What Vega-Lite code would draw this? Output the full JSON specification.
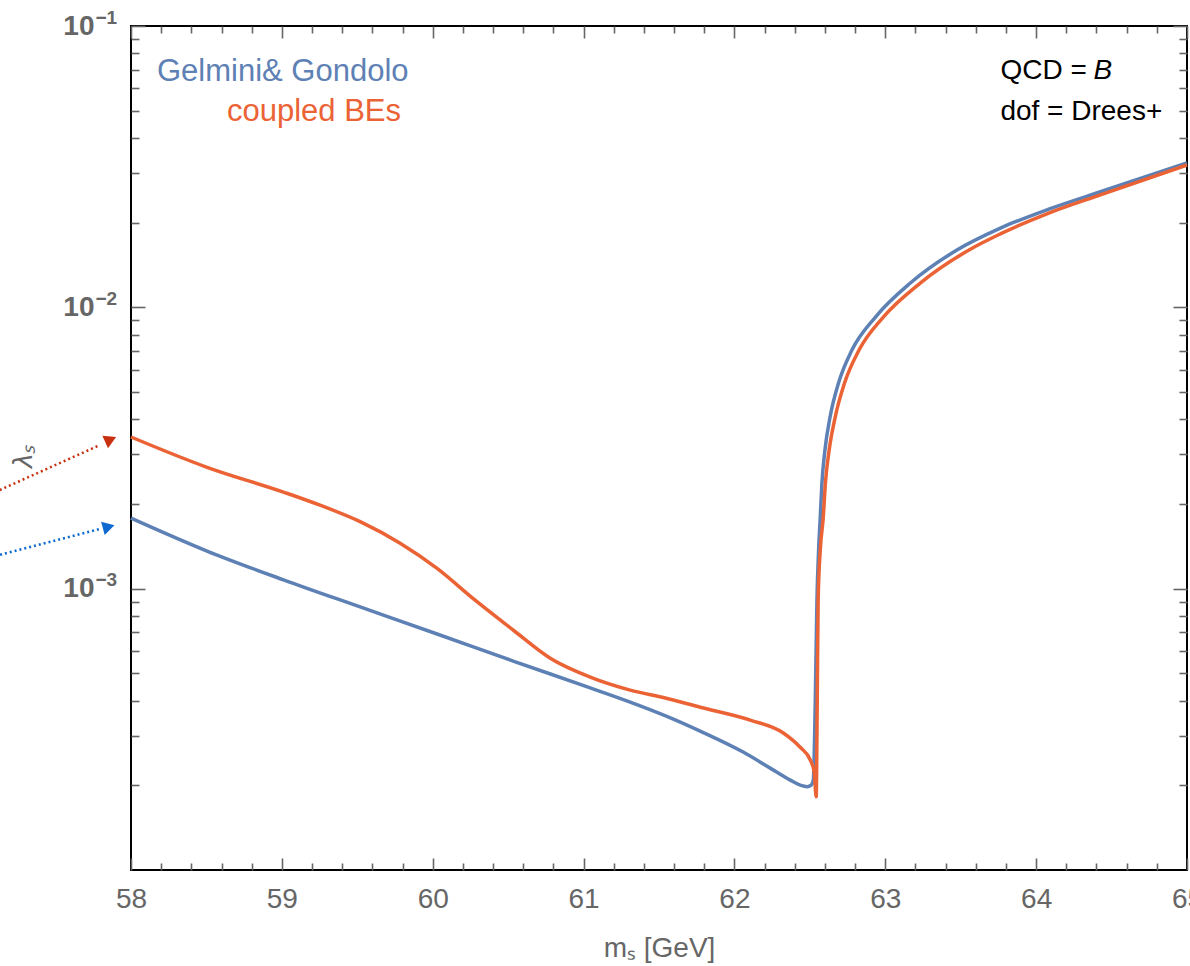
{
  "$schema": "https://vega.github.io/schema/vega-lite/v6.json",
  "width": 1056,
  "height": 844,
  "autosize": {"type": "none"},
  "padding": {"left": 131, "top": 26, "right": 3, "bottom": 96},
  "background": "white",
  "config": {
    "view": {"stroke": "black", "strokeWidth": 2},
    "axis": {"grid": false, "domain": false, "tickColor": "#666666", "tickWidth": 1.6, "labelFont": "Liberation Sans", "titleFont": "Liberation Sans", "labelColor": "#666666", "titleColor": "#666666", "titleFontWeight": "normal"}
  },
  "resolve": {"axis": {"x": "independent", "y": "independent"}},
  "datasets": {
    "gg": [
      {"m": 58.000, "lam": 0.001782}, {"m": 58.504, "lam": 0.001361}, {"m": 59.015, "lam": 0.001073},
      {"m": 59.519, "lam": 0.000861}, {"m": 60.029, "lam": 0.000690}, {"m": 60.533, "lam": 0.000553},
      {"m": 61.044, "lam": 0.000444}, {"m": 61.309, "lam": 0.0003953}, {"m": 61.548, "lam": 0.0003524},
      {"m": 61.773, "lam": 0.0003117}, {"m": 62.058, "lam": 0.0002625}, {"m": 62.237, "lam": 0.0002302},
      {"m": 62.370, "lam": 0.0002087}, {"m": 62.436, "lam": 0.0002003}, {"m": 62.483, "lam": 0.0001978},
      {"m": 62.509, "lam": 0.0002003}, {"m": 62.523, "lam": 0.0002087},
      {"m": 62.536, "lam": 0.000402}, {"m": 62.547, "lam": 0.000911}, {"m": 62.558, "lam": 0.001372},
      {"m": 62.569, "lam": 0.001796}, {"m": 62.580, "lam": 0.002374}, {"m": 62.600, "lam": 0.003110},
      {"m": 62.634, "lam": 0.004074}, {"m": 62.690, "lam": 0.005382}, {"m": 62.779, "lam": 0.007050},
      {"m": 62.935, "lam": 0.009236}, {"m": 63.166, "lam": 0.01220}, {"m": 63.475, "lam": 0.01599},
      {"m": 63.763, "lam": 0.01913}, {"m": 64.088, "lam": 0.02238}, {"m": 64.426, "lam": 0.02575},
      {"m": 65.000, "lam": 0.03258}
    ],
    "cb": [
      {"m": 58.000, "lam": 0.00346}, {"m": 58.504, "lam": 0.00270}, {"m": 59.015, "lam": 0.00220},
      {"m": 59.253, "lam": 0.00198}, {"m": 59.519, "lam": 0.00173}, {"m": 59.784, "lam": 0.00145},
      {"m": 60.029, "lam": 0.00118}, {"m": 60.281, "lam": 0.000910}, {"m": 60.533, "lam": 0.000713},
      {"m": 60.779, "lam": 0.000566}, {"m": 61.044, "lam": 0.000485}, {"m": 61.309, "lam": 0.000436},
      {"m": 61.548, "lam": 0.000408}, {"m": 61.773, "lam": 0.000379}, {"m": 62.105, "lam": 0.000341},
      {"m": 62.324, "lam": 0.000307}, {"m": 62.436, "lam": 0.000273}, {"m": 62.503, "lam": 0.000246},
      {"m": 62.529, "lam": 0.000223}, {"m": 62.542, "lam": 0.000182}, {"m": 62.549, "lam": 0.000402},
      {"m": 62.555, "lam": 0.000911}, {"m": 62.569, "lam": 0.001372}, {"m": 62.589, "lam": 0.001796},
      {"m": 62.603, "lam": 0.002374}, {"m": 62.628, "lam": 0.003110}, {"m": 62.668, "lam": 0.004074},
      {"m": 62.730, "lam": 0.005382}, {"m": 62.826, "lam": 0.007050}, {"m": 62.987, "lam": 0.009236},
      {"m": 63.232, "lam": 0.01220}, {"m": 63.555, "lam": 0.01599}, {"m": 63.763, "lam": 0.01824},
      {"m": 64.088, "lam": 0.02168}, {"m": 64.426, "lam": 0.02512}, {"m": 65.000, "lam": 0.03206}
    ],
    "arrowRed": [{"m": 57.10, "lam": 0.002205}, {"m": 57.794, "lam": 0.00324}],
    "arrowBlue": [{"m": 57.10, "lam": 0.001306}, {"m": 57.794, "lam": 0.00163}]
  },
  "layer": [
    {
      "data": {"name": "gg"},
      "mark": {"type": "line", "color": "#5E81B5", "strokeWidth": 3.5, "interpolate": "monotone"},
      "encoding": {
        "x": {"field": "m", "type": "quantitative", "scale": {"type": "linear", "domain": [58, 65], "nice": false, "zero": false},
          "axis": {"orient": "bottom", "values": [58, 59, 60, 61, 62, 63, 64, 65], "format": "d", "tickSize": -12, "labelPadding": 27, "labelFontSize": 28, "labelFlush": false, "labelOverlap": false, "title": "mₛ [GeV]", "titleFontSize": 28, "titleY": 86, "titleBaseline": "alphabetic"}},
        "y": {"field": "lam", "type": "quantitative", "scale": {"type": "log", "domain": [0.0001, 0.1], "nice": false},
          "axis": {"orient": "left", "values": [0.1, 0.01, 0.001], "tickSize": -14, "labelPadding": 51, "labelFontSize": 28, "labelFontWeight": "bold", "labelOverlap": false, "labelFlush": false, "labelExpr": "'10'", "title": "λₛ", "titleX": -108, "titleY": 430, "titleAngle": -90, "titleFontSize": 28, "titleFontStyle": "italic", "titleAlign": "center", "titleBaseline": "middle"}}
      }
    },
    {
      "data": {"name": "cb"},
      "mark": {"type": "line", "color": "#EB6235", "strokeWidth": 3.5, "interpolate": "monotone"},
      "encoding": {
        "x": {"field": "m", "type": "quantitative", "scale": {"type": "linear", "domain": [58, 65], "nice": false, "zero": false},
          "axis": {"orient": "top", "values": [58, 59, 60, 61, 62, 63, 64, 65], "tickSize": -12, "labels": false, "title": null}},
        "y": {"field": "lam", "type": "quantitative", "scale": {"type": "log", "domain": [0.0001, 0.1], "nice": false},
          "axis": {"orient": "right", "values": [0.1, 0.01, 0.001], "tickSize": -14, "labels": false, "title": null}}
      }
    },
    {
      "data": {"values": [{}]},
      "mark": {"type": "text", "align": "left", "baseline": "alphabetic", "font": "Liberation Sans", "fontSize": 31, "color": "#5E81B5"},
      "encoding": {
        "x": {"datum": 58.172, "type": "quantitative", "scale": {"type": "linear", "domain": [58, 65], "nice": false, "zero": false},
          "axis": {"orient": "bottom", "values": [58.2, 58.4, 58.6, 58.8, 59.2, 59.4, 59.6, 59.8, 60.2, 60.4, 60.6, 60.8, 61.2, 61.4, 61.6, 61.8, 62.2, 62.4, 62.6, 62.8, 63.2, 63.4, 63.6, 63.8, 64.2, 64.4, 64.6, 64.8], "tickSize": -7, "labels": false, "title": null}},
        "y": {"datum": 0.0637, "type": "quantitative", "scale": {"type": "log", "domain": [0.0001, 0.1], "nice": false},
          "axis": {"orient": "left", "values": [0.0002, 0.0003, 0.0004, 0.0005, 0.0006, 0.0007, 0.0008, 0.0009, 0.002, 0.003, 0.004, 0.005, 0.006, 0.007, 0.008, 0.009, 0.02, 0.03, 0.04, 0.05, 0.06, 0.07, 0.08, 0.09], "tickSize": -8, "labels": false, "title": null}},
        "text": {"value": "Gelmini& Gondolo"}
      }
    },
    {
      "data": {"values": [{}]},
      "mark": {"type": "text", "align": "right", "baseline": "alphabetic", "font": "Liberation Sans", "fontSize": 31, "color": "#EB6235"},
      "encoding": {
        "x": {"datum": 59.79, "type": "quantitative", "scale": {"type": "linear", "domain": [58, 65], "nice": false, "zero": false},
          "axis": {"orient": "top", "values": [58.2, 58.4, 58.6, 58.8, 59.2, 59.4, 59.6, 59.8, 60.2, 60.4, 60.6, 60.8, 61.2, 61.4, 61.6, 61.8, 62.2, 62.4, 62.6, 62.8, 63.2, 63.4, 63.6, 63.8, 64.2, 64.4, 64.6, 64.8], "tickSize": -7, "labels": false, "title": null}},
        "y": {"datum": 0.0459, "type": "quantitative", "scale": {"type": "log", "domain": [0.0001, 0.1], "nice": false},
          "axis": {"orient": "right", "values": [0.0002, 0.0003, 0.0004, 0.0005, 0.0006, 0.0007, 0.0008, 0.0009, 0.002, 0.003, 0.004, 0.005, 0.006, 0.007, 0.008, 0.009, 0.02, 0.03, 0.04, 0.05, 0.06, 0.07, 0.08, 0.09], "tickSize": -8, "labels": false, "title": null}},
        "text": {"value": "coupled BEs"}
      }
    },
    {
      "data": {"values": [{}]},
      "mark": {"type": "text", "align": "left", "baseline": "alphabetic", "font": "Liberation Sans", "fontSize": 28, "color": "black"},
      "encoding": {
        "x": {"datum": 63.763, "type": "quantitative", "axis": null},
        "y": {"datum": 0.0648, "type": "quantitative", "scale": {"type": "log", "domain": [0.0001, 0.1], "nice": false},
          "axis": {"orient": "left", "values": [0.1, 0.01, 0.001], "ticks": false, "tickSize": 0, "labelAlign": "left", "labelPadding": 36, "labelOffset": -9, "labelFontSize": 19, "labelFontWeight": "bold", "labelOverlap": false, "labelFlush": false, "labelExpr": "datum.value > 0.05 ? '−1' : datum.value > 0.005 ? '−2' : '−3'", "title": null}},
        "text": {"value": "QCD = "}
      }
    },
    {
      "data": {"values": [{}]},
      "mark": {"type": "text", "align": "left", "baseline": "alphabetic", "font": "Liberation Sans", "fontSize": 28, "fontStyle": "italic", "color": "black"},
      "encoding": {
        "x": {"datum": 64.38, "type": "quantitative", "axis": null},
        "y": {"datum": 0.0648, "type": "quantitative", "axis": null},
        "text": {"value": "B"}
      }
    },
    {
      "data": {"values": [{}]},
      "mark": {"type": "text", "align": "left", "baseline": "alphabetic", "font": "Liberation Sans", "fontSize": 28, "color": "black"},
      "encoding": {
        "x": {"datum": 63.763, "type": "quantitative", "axis": null},
        "y": {"datum": 0.0463, "type": "quantitative", "axis": null},
        "text": {"value": "dof = Drees+"}
      }
    },
    {
      "data": {"name": "arrowRed"},
      "mark": {"type": "line", "color": "#C8300F", "strokeWidth": 2.5, "strokeDash": [2, 3]},
      "encoding": {"x": {"field": "m", "type": "quantitative", "axis": null}, "y": {"field": "lam", "type": "quantitative", "axis": null}}
    },
    {
      "data": {"name": "arrowBlue"},
      "mark": {"type": "line", "color": "#0E6AD0", "strokeWidth": 2.5, "strokeDash": [2, 3]},
      "encoding": {"x": {"field": "m", "type": "quantitative", "axis": null}, "y": {"field": "lam", "type": "quantitative", "axis": null}}
    },
    {
      "data": {"values": [{}]},
      "mark": {"type": "point", "shape": "triangle-right", "filled": true, "opacity": 1, "color": "#C8300F", "size": 190, "angle": -24},
      "encoding": {"x": {"datum": 57.865, "type": "quantitative", "axis": null}, "y": {"datum": 0.00339, "type": "quantitative", "axis": null}}
    },
    {
      "data": {"values": [{}]},
      "mark": {"type": "point", "shape": "triangle-right", "filled": true, "opacity": 1, "color": "#0E6AD0", "size": 190, "angle": -15},
      "encoding": {"x": {"datum": 57.852, "type": "quantitative", "axis": null}, "y": {"datum": 0.00166, "type": "quantitative", "axis": null}}
    }
  ]
}
